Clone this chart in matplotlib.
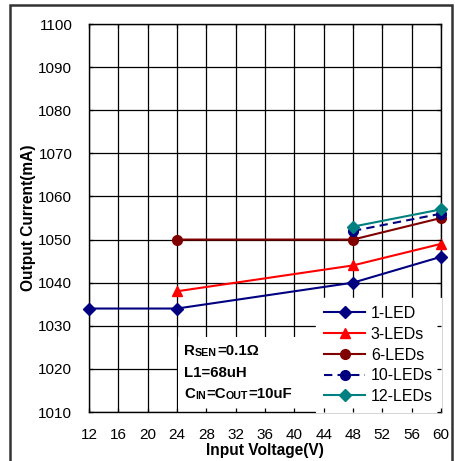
import matplotlib
matplotlib.use("Agg")
import matplotlib.pyplot as plt
from matplotlib.patches import Rectangle

plt.rcParams['font.family'] = ['Liberation Sans', 'DejaVu Sans']

# input voltage (V) and output current (mA) per LED count
v_1led = [12, 24, 48, 60]
i_1led = [1034, 1034, 1040, 1046]
v_3led = [24, 48, 60]
i_3led = [1038, 1044, 1049]
v_6led = [24, 48, 60]
i_6led = [1050, 1050, 1055]
v_10led = [48, 60]
i_10led = [1052, 1056]
v_12led = [48, 60]
i_12led = [1053, 1057]

x_ticks = list(range(12, 61, 4))
y_ticks = list(range(1010, 1101, 10))


def rich_text(ax, x, y, pieces):
    # pieces: list of (string, fontsize), drawn one after another
    prev = None
    for s, size in pieces:
        if prev is None:
            prev = ax.text(x, y, s, fontsize=size, fontweight='bold',
                           va='bottom', ha='left', zorder=4)
        else:
            prev = ax.annotate(s, xy=(1, 0), xycoords=prev, fontsize=size,
                               fontweight='bold', va='bottom', ha='left', zorder=4)


fig = plt.figure(figsize=(4.56, 4.61), dpi=100)
rect = [89 / 456, 49 / 461, 352 / 456, 388 / 461]
ax = fig.add_axes(rect)

ax.plot(v_1led, i_1led, color='#000080', lw=1.5, marker='D', ms=6.3, label='1-LED',
        clip_on=False, zorder=3)
ax.plot(v_3led, i_3led, color='#FF0000', lw=1.5, marker='^', ms=7.5, label='3-LEDs',
        clip_on=False, zorder=3)
ax.plot(v_6led, i_6led, color='#800000', lw=1.5, marker='o', ms=7, label='6-LEDs',
        clip_on=False, zorder=3)
ax.plot(v_10led, i_10led, color='#000080', lw=1.5, ls=(0, (4, 2.5)), marker='o', ms=7,
        label='10-LEDs', clip_on=False, zorder=3)
ax.plot(v_12led, i_12led, color='#008080', lw=1.5, marker='D', ms=6.3, label='12-LEDs',
        clip_on=False, zorder=3)

ax.set_xlim(12, 60)
ax.set_ylim(1010, 1100)
ax.set_xticks(x_ticks)
ax.set_yticks(y_ticks)
ax.grid(True, color='black', lw=0.9)
ax.set_axisbelow(True)
ax.tick_params(length=0, labelsize=11)
ax.tick_params(axis='y', pad=12)
ax.tick_params(axis='x', pad=11.5)
for sp in ax.spines.values():
    sp.set_linewidth(1.0)

ax.set_xlabel('Input Voltage(V)', fontsize=11.2, fontweight='bold', labelpad=0.5)
ax.set_ylabel('Output Current(mA)', fontsize=11.2, fontweight='bold', labelpad=2)

leg = ax.legend(loc='lower right', borderaxespad=0, fontsize=11.5, handlelength=2.6,
                labelspacing=0.36, frameon=True, fancybox=False, borderpad=0.5,
                handletextpad=0.35)
leg.get_frame().set_edgecolor('white')
leg.get_frame().set_alpha(1)

# white box behind the parameter notes, hides the grid there
ax.add_patch(Rectangle((0.253, 0), 0.40, 0.193, transform=ax.transAxes,
                       facecolor='white', edgecolor='none', zorder=1))

# small inward ticks stay visible over the legend
ax_t = fig.add_axes(rect, sharex=ax, sharey=ax)
ax_t.patch.set_visible(False)
for sp in ax_t.spines.values():
    sp.set_visible(False)
ax_t.tick_params(direction='in', length=3, width=0.9, top=True, right=True,
                 labelbottom=False, labelleft=False)

rich_text(ax, 25, 1022.5, [('R', 10.8), ('SEN', 7.7), ('=0.1Ω', 10.8)])
rich_text(ax, 25, 1017.5, [('L1=68uH', 10.8)])
rich_text(ax, 25, 1012.5, [('C', 10.8), ('IN', 7.7), ('=C', 10.8), ('OUT', 7.7), ('=10uF', 10.8)])

fig.patches.append(Rectangle((10 / 456, -0.05), 442 / 456, 1.05 - 5 / 461,
                             transform=fig.transFigure, fill=False,
                             edgecolor='#333333', lw=1.8))

fig.savefig('out.png', dpi=100)
